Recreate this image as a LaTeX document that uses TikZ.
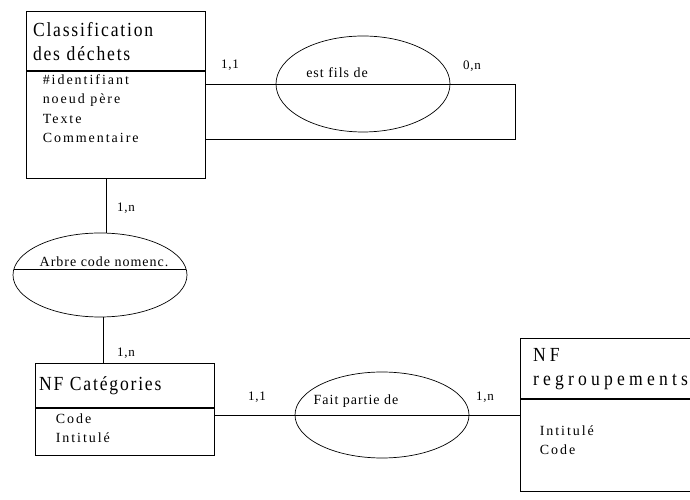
\documentclass[tikz,border=0pt]{standalone}
\usepackage{fontspec}
\setmainfont{Liberation Serif}
\newfontfamily\titrefont[LetterSpace=9,FakeStretch=0.88]{Liberation Serif}
\newfontfamily\titrelarge[LetterSpace=21,FakeStretch=0.88]{Liberation Serif}
\newfontfamily\attrfont[LetterSpace=14]{Liberation Serif}
\newfontfamily\relfont[LetterSpace=7]{Liberation Serif}
\newfontfamily\cardfont[LetterSpace=6]{Liberation Serif}
\usetikzlibrary{shapes}
\usetikzlibrary{positioning}
\tikzstyle{tete} = [
	draw,
	line width=1pt,
	minimum width=179pt,
	align=left,
	inner ysep=0pt,
	font=\titrefont\fontsize{20}{24}\selectfont
]
\tikzstyle{corps} = [
	draw,
	line width=0.8pt,
	minimum width=179pt,
	inner sep=0pt
]
\tikzstyle{attributs} = [inner sep=0pt, align=left, font=\attrfont\fontsize{14}{19.5}\selectfont]
\tikzstyle{relation} = [draw, ellipse, line width=0.7pt, minimum width=174pt, inner sep=0pt]
\tikzstyle{nomrel} = [inner sep=0pt, font=\relfont\fontsize{14}{16}\selectfont]
\tikzstyle{card} = [inner sep=0pt, font=\cardfont\fontsize{13}{15}\selectfont]
\tikzstyle{lien} = [draw, line width=0.7pt]

\begin{document}
\begin{tikzpicture}[x=1pt, y=1pt]
	\useasboundingbox (0,0) rectangle (690,500);
	\clip (0,0) rectangle (690,500);

	\node[tete, inner xsep=7pt, text width=165pt, minimum height=59pt] (classif) at (115.5,458.5) {Classification\\des déchets};
	\node[corps, minimum height=107pt, below of=classif, node distance=83pt] (classifCorps) {};
	\node[attributs, below right=3.5pt and 17pt of classifCorps.north west] (classifAttr) {\#identifiant\\noeud père\\Texte\\Commentaire};

	\node[tete, inner xsep=4pt, text width=171pt, minimum height=44pt] (categ) at (124.5,114) {NF Catégories};
	\node[corps, minimum height=47pt, below of=categ, node distance=45.5pt] (categCorps) {};
	\node[attributs, below right=5.5pt and 21pt of categCorps.north west] (categAttr) {Code\\Intitulé};

	\node[tete, font=\titrelarge\fontsize{20}{24}\selectfont, inner xsep=13pt, text width=159pt, minimum height=60pt] (regroup) at (612.5,131) {NF\\regroupements};
	\node[corps, minimum width=185pt, minimum height=92pt, below of=regroup, node distance=76pt] (regroupCorps) {};
	\node[attributs, below right=26.5pt and 20pt of regroupCorps.north west] (regroupAttr) {Intitulé\\Code};

	\node[relation, minimum height=96pt] (estfils) at (363,416) {};
	\node[relation, minimum height=84pt] (arbre) at (100,225) {};
	\node[relation, minimum height=86pt] (faitpartie) at (382,85) {};

	\node[nomrel] (estfilsNom) at ([xshift=-26pt, yshift=11pt]estfils.center) {est fils de};
	\node[nomrel] (arbreNom) at ([xshift=4pt, yshift=13pt]arbre.center) {Arbre code nomenc.};
	\node[nomrel] (faitpartieNom) at ([xshift=-26pt, yshift=14pt]faitpartie.center) {Fait partie de};

	\coordinate (coin) at (515,361);
	\draw[lien] (estfils -| classifCorps.east) -- (estfils -| coin) -- (coin) -- (coin -| classifCorps.east);
	\draw[lien] ([xshift=6pt]arbre.north) -- ([xshift=6pt]arbre.north |- classifCorps.south);
	\draw[lien] (arbre.176) -- (arbre.4);
	\draw[lien] ([xshift=3pt]arbre.south) -- ([xshift=3pt]arbre.south |- categ.north);
	\draw[lien] (faitpartie -| categCorps.east) -- (faitpartie -| regroupCorps.west);

	\node[card] (cardFils) at (230,435) {1,1};
	\node[card] (cardPere) at (472,434) {0,n};
	\node[card] (cardArbreHaut) at (126,292) {1,n};
	\node[card] (cardArbreBas) at (126,147) {1,n};
	\node[card] (cardCateg) at (257,103) {1,1};
	\node[card] (cardRegroup) at (485,103) {1,n};
\end{tikzpicture}
\end{document}
